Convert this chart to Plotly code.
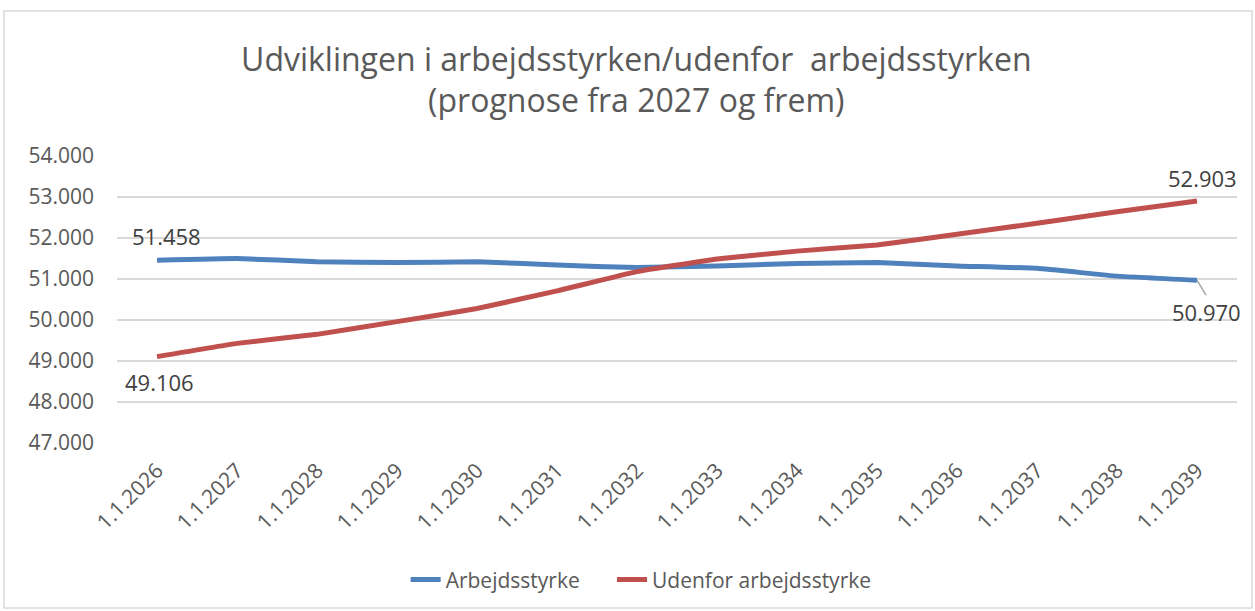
import plotly.graph_objects as go

categories = ["1.1.2026", "1.1.2027", "1.1.2028", "1.1.2029", "1.1.2030", "1.1.2031", "1.1.2032",
              "1.1.2033", "1.1.2034", "1.1.2035", "1.1.2036", "1.1.2037", "1.1.2038", "1.1.2039"]
arbejdsstyrke = [51458, 51500, 51420, 51400, 51420, 51340, 51280, 51320, 51380, 51400, 51320, 51260, 51070, 50970]
udenfor = [49106, 49430, 49650, 49960, 50280, 50710, 51180, 51490, 51680, 51830, 52090, 52360, 52640, 52903]
y_ticks = [47000, 48000, 49000, 50000, 51000, 52000, 53000, 54000]
y_ticklabels = ["47.000", "48.000", "49.000", "50.000", "51.000", "52.000", "53.000", "54.000"]
series_names = ["Arbejdsstyrke", "Udenfor arbejdsstyrke"]

FONT = "Open Sans, sans-serif"
GREY = "#595959"
LABEL = "#404040"
PAD = "\u00a0" * 5

fig = go.Figure()
fig.add_trace(go.Scatter(x=categories, y=arbejdsstyrke, mode="lines", name=series_names[0] + PAD,
                         line=dict(color="#4F81BD", width=5, shape="spline", smoothing=0.3)))
fig.add_trace(go.Scatter(x=categories, y=udenfor, mode="lines", name=series_names[1],
                         line=dict(color="#C0504D", width=5, shape="spline", smoothing=0.3)))

def fmt(v):
    return f"{v:,}".replace(",", ".")

lab_font = dict(size=22, color=LABEL, family=FONT)
# data labels
fig.add_annotation(x=categories[0], y=arbejdsstyrke[0], text=fmt(arbejdsstyrke[0]), showarrow=False,
                   xshift=9, yshift=24, font=lab_font)
fig.add_annotation(x=categories[0], y=udenfor[0], text=fmt(udenfor[0]), showarrow=False,
                   xshift=2, yshift=-25, font=lab_font)
fig.add_annotation(x=categories[-1], y=udenfor[-1], text=fmt(udenfor[-1]), showarrow=False,
                   xshift=5, yshift=23, font=lab_font)
fig.add_annotation(x=categories[-1], y=arbejdsstyrke[-1], text=fmt(arbejdsstyrke[-1]), showarrow=True,
                   arrowhead=0, arrowwidth=1.5, arrowcolor="#A6A6A6", ax=9, ay=15, standoff=0,
                   font=lab_font, yanchor="top", xanchor="center", xshift=0)

# chart border
fig.add_shape(type="rect", xref="paper", yref="paper", x0=-0.1009, x1=1.0134, y0=-0.575, y1=1.505,
              line=dict(color="#D9D9D9", width=1.5), layer="below")

fig.update_layout(
    width=1255, height=611,
    margin=dict(l=117, r=18, t=156, b=168, autoexpand=False),
    paper_bgcolor="white", plot_bgcolor="white",
    title=dict(text="Udviklingen i arbejdsstyrken/udenfor  arbejdsstyrken<br>(prognose fra 2027 og frem)",
               x=0.507, xanchor="center", y=0.884, yanchor="middle", xref="container", yref="container",
               font=dict(size=32, color=GREY, family=FONT)),
    xaxis=dict(type="category", tickangle=-45, showgrid=False, showline=False, ticks="",
               tickfont=dict(size=21, color=GREY, family=FONT), range=[-0.5, 13.5], automargin=False,
               ticklabelstandoff=10),
    yaxis=dict(range=[47000, 54000], tickvals=y_ticks, ticktext=y_ticklabels, showgrid=True,
               gridcolor="#D9D9D9", gridwidth=1.5, zeroline=False, showline=False, ticks="",
               tickfont=dict(size=21, color=GREY, family=FONT), ticklabelstandoff=22, automargin=False),
    legend=dict(orientation="h", x=0.468, xanchor="center", y=-0.477, yanchor="middle",
                font=dict(size=21, color=GREY, family=FONT), traceorder="normal"),
    showlegend=True,
)

fig.write_html("out.html", config={"displayModeBar": False},
               post_script="document.body.style.margin='0';document.body.style.overflow='hidden';")
